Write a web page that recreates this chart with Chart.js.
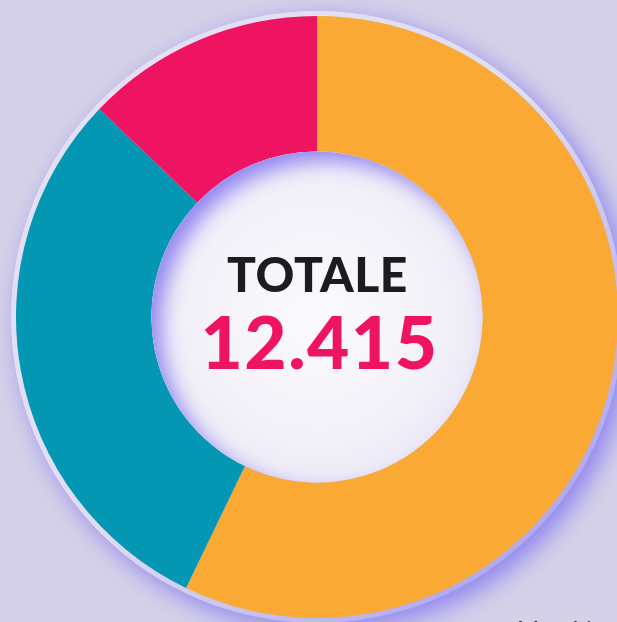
<!DOCTYPE html>
<html>
<head>
<meta charset="utf-8">
<script src="https://cdn.jsdelivr.net/npm/chart.js@4/dist/chart.umd.min.js"></script>
<style>
  html, body { margin:0; padding:0; }
  body { width:617px; height:622px; overflow:hidden; background:#d4d1e8; position:relative; font-family:Lato, "Open Sans", sans-serif; }
  #wrap { position:absolute; left:0; top:0; width:660px; height:660px; }
  .t { position:absolute; white-space:nowrap; line-height:1; font-weight:900; }
  #lbl { left:0; width:635px; text-align:center; top:250px; font-size:48px; color:#1d1b1f; letter-spacing:0.5px; }
  #tot { left:0; width:639px; text-align:center; top:305px; font-size:73px; color:#ee1461; letter-spacing:1.5px; }
  #leg { left:517px; top:617px; font-size:24px; font-weight:400; color:#222; }
</style>
</head>
<body>
<div id="wrap"><canvas id="c" width="660" height="660"></canvas></div>
<div class="t" id="lbl">TOTALE</div>
<div class="t" id="tot"></div>
<div class="t" id="leg">Maschi</div>
<script>
const categories = ["Arancione", "Blu", "Rosa"];
const values = [7097, 3721, 1597];
const colors = ["#f9a934", "#0497b4", "#ee1461"];
const centerLabel = "TOTALE";

const total = values.reduce((a, b) => a + b, 0);
document.getElementById('tot').textContent = total.toLocaleString('it-IT');
document.getElementById('lbl').textContent = centerLabel;

const decor = {
  id: 'decor',
  beforeDatasetsDraw(chart) {
    const arc = chart.getDatasetMeta(0).data[0];
    if (!arc) return;
    const {x, y, outerRadius} = arc.getProps(['x','y','outerRadius'], true);
    const ctx = chart.ctx;
    ctx.save();
    ctx.shadowColor = 'rgba(130,118,240,0.85)';
    ctx.shadowBlur = 24;
    ctx.shadowOffsetX = 8;
    ctx.shadowOffsetY = 8;
    const g = ctx.createLinearGradient(x - outerRadius, y - outerRadius, x + outerRadius, y + outerRadius);
    g.addColorStop(0, '#e6e2f4');
    g.addColorStop(0.5, '#e0dcf2');
    g.addColorStop(1, '#9d95ef');
    ctx.fillStyle = g;
    ctx.beginPath();
    ctx.arc(x, y, outerRadius + 5, 0, Math.PI * 2);
    ctx.fill();
    ctx.restore();
  },
  afterDatasetsDraw(chart) {
    const arc = chart.getDatasetMeta(0).data[0];
    if (!arc) return;
    const {x, y, innerRadius} = arc.getProps(['x','y','innerRadius'], true);
    const ctx = chart.ctx;
    ctx.save();
    const rg = ctx.createRadialGradient(x, y, 0, x, y, innerRadius);
    rg.addColorStop(0, '#fbfafd');
    rg.addColorStop(0.7, '#f4f2f9');
    rg.addColorStop(1, '#ece9f6');
    ctx.beginPath();
    ctx.arc(x, y, innerRadius, 0, Math.PI * 2);
    ctx.fillStyle = rg;
    ctx.fill();
    ctx.clip();
    // inner glow (top-left)
    ctx.beginPath();
    ctx.rect(x - innerRadius * 3, y - innerRadius * 3, innerRadius * 6, innerRadius * 6);
    ctx.arc(x, y, innerRadius + 1, 0, Math.PI * 2, true);
    ctx.shadowColor = 'rgba(140,128,240,0.95)';
    ctx.shadowBlur = 20;
    ctx.shadowOffsetX = 10;
    ctx.shadowOffsetY = 10;
    ctx.fillStyle = '#8d84ee';
    ctx.fill();
    ctx.restore();
  }
};

new Chart(document.getElementById('c'), {
  type: 'doughnut',
  data: {
    labels: categories,
    datasets: [{ data: values, backgroundColor: colors, borderWidth: 0, hoverOffset: 0 }]
  },
  options: {
    responsive: false,
    animation: false,
    cutout: '55%',
    layout: { padding: { left: 16, top: 16, right: 42, bottom: 42 } },
    plugins: { legend: { display: false }, tooltip: { enabled: false } }
  },
  plugins: [decor]
});
</script>
</body>
</html>
